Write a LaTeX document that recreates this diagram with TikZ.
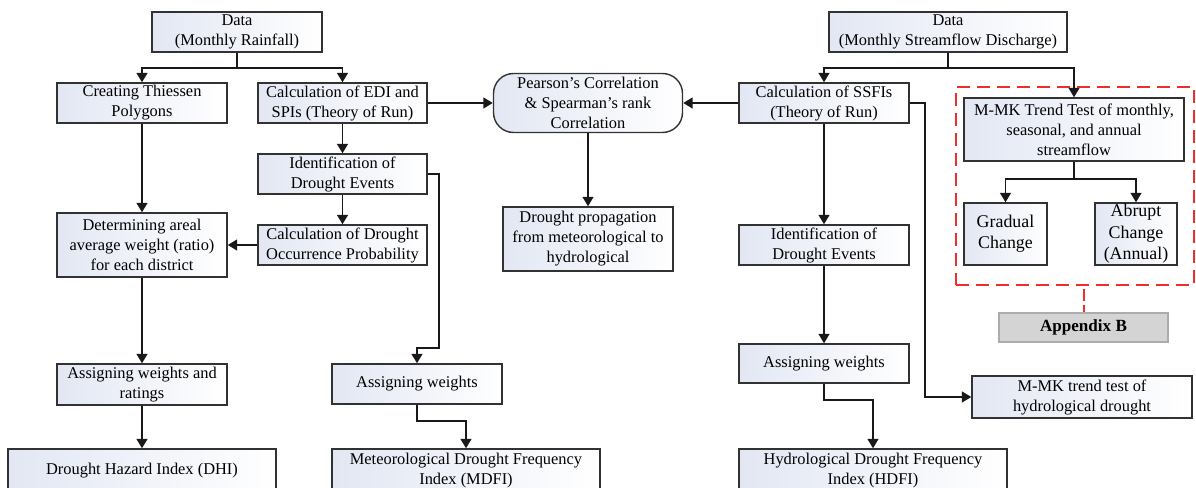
\documentclass[tikz,border=0pt]{standalone}
\usepackage{fontspec}
\setmainfont{Liberation Serif}
\usetikzlibrary{arrows.meta,shadows}
\definecolor{boxl}{RGB}{226,231,243}
\definecolor{edge}{RGB}{50,50,50}
\definecolor{lin}{RGB}{25,25,25}
\definecolor{redd}{RGB}{238,45,45}
\definecolor{appf}{RGB}{212,212,212}
\tikzset{
  sz/.style 2 args={minimum width=#1*0.75pt, minimum height=#2*0.75pt},
  box/.style={draw=edge, line width=1.05pt, left color=boxl, right color=white,
    align=center, inner sep=0pt, font=\fontsize{12.3}{15}\selectfont},
  bigtxt/.style={font=\fontsize{13.4}{16}\selectfont},
  arr/.style={draw=lin, line width=1.35pt, -{Triangle[length=7pt,width=8pt]}},
  reddash/.style={draw=redd, line width=1.5pt, dash pattern=on 10pt off 5pt},
  appbox/.style={draw=gray!65, line width=0.9pt, fill=appf, inner sep=0pt,
    font=\fontsize{12.8}{15}\selectfont\bfseries,
    drop shadow={opacity=0.25, shadow xshift=1pt, shadow yshift=-1pt}}
}
\begin{document}
\begin{tikzpicture}[x=0.75pt, y=-0.75pt]
\useasboundingbox (0,0) rectangle (1196,488);
\clip (0,0) rectangle (1196,488);
% red dashed group frame
\node[reddash, sz={238}{198}, inner sep=0pt] (red) at (1075,186) {};
% nodes
\node[box, sz={170}{40}] (d1) at (237,32) {Data\\(Monthly Rainfall)};
\node[box, sz={238}{40}] (d2) at (948,32) {Data\\(Monthly Streamflow Discharge)};
\node[box, sz={170}{40}] (thi) at (142,103) {Creating Thiessen\\Polygons};
\node[box, sz={169}{40}] (edi) at (342.5,103) {Calculation of EDI and\\SPIs (Theory of Run)};
\node[box, sz={169}{40}] (id1) at (342.5,174) {Identification of\\Drought Events};
\node[box, sz={169}{40}] (occ) at (342.5,245) {Calculation of Drought\\Occurrence Probability};
\node[box, sz={170}{64}] (det) at (142,245) {Determining areal\\average weight (ratio)\\for each district};
\node[box, sz={170}{41}] (aw1) at (142,384.5) {Assigning weights and\\ratings};
\node[box, sz={268}{44}] (dhi) at (142,471) {Drought Hazard Index (DHI)};
\node[box, sz={170}{40}] (aw2) at (417,384) {Assigning weights};
\node[box, sz={268}{44}] (mdfi) at (466,471) {Meteorological Drought Frequency\\Index (MDFI)};
\node[box, sz={189}{59}, rounded corners=15pt] (pear) at (588,103) {Pearson’s Correlation\\\& Spearman’s rank\\Correlation};
\node[box, sz={170}{64}] (prop) at (588,239) {Drought propagation\\from meteorological to\\hydrological};
\node[box, sz={170}{40}] (ssfi) at (824,103) {Calculation of SSFIs\\(Theory of Run)};
\node[box, sz={170}{40}] (id2) at (824,245) {Identification of\\Drought Events};
\node[box, sz={170}{39}] (aw3) at (824,363.5) {Assigning weights};
\node[box, sz={268}{44}] (hdfi) at (873,471) {Hydrological Drought Frequency\\Index (HDFI)};
\node[box, sz={220}{42}] (mmkh) at (1082,397) {M-MK trend test of\\hydrological drought};
\node[box, sz={220}{63}] (mmk) at (1074,129.5) {M-MK Trend Test of monthly,\\seasonal, and annual\\streamflow};
\node[box, bigtxt, sz={83}{62}] (grad) at (1005.5,234) {Gradual\\Change};
\node[box, bigtxt, sz={82}{62}] (abr) at (1136,234) {Abrupt\\Change\\(Annual)};
\node[appbox, sz={169}{29}] (app) at (1083.5,327.5) {Appendix B};
% connectors
\draw[arr] (d1.south) -- ++(0,15) -| (thi.north);
\draw[arr] (d1.south) -- ++(0,15) -| (edi.north);
\draw[arr] (d2.south) -- ++(0,15) -| (ssfi.north);
\draw[arr] (d2.south) -- ++(0,15) -| (mmk.north);
\draw[arr] (mmk.south) -- ++(0,17) -| (grad.north);
\draw[arr] (mmk.south) -- ++(0,17) -| (abr.north);
\draw[reddash, dash pattern=on 9pt off 3pt, dash phase=-2pt] (app.north |- red.south) -- (app.north);
\draw[arr] (edi.east) -- (pear.west);
\draw[arr] (ssfi.west) -- (pear.east);
\draw[arr] (pear.south) -- (prop.north);
\draw[arr] (edi.south) -- (id1.north);
\draw[arr] (id1.south) -- (occ.north);
\draw[arr] (occ.west) -- (det.east);
\draw[arr] (thi.south) -- (det.north);
\draw[arr] (det.south) -- (aw1.north);
\draw[arr] (aw1.south) -- (dhi.north);
\draw[arr] (id1.east) -- ++(11,0) -- ++(0,174) -| (aw2.north);
\draw[arr] (aw2.south) -- ++(0,16) -| (mdfi.north);
\draw[arr] (ssfi.south) -- (id2.north);
\draw[arr] (id2.south) -- (aw3.north);
\draw[arr] (aw3.south) -- ++(0,16) -| (hdfi.north);
\draw[arr] (ssfi.east) -- ++(15,0) |- (mmkh.west);
\end{tikzpicture}
\end{document}
